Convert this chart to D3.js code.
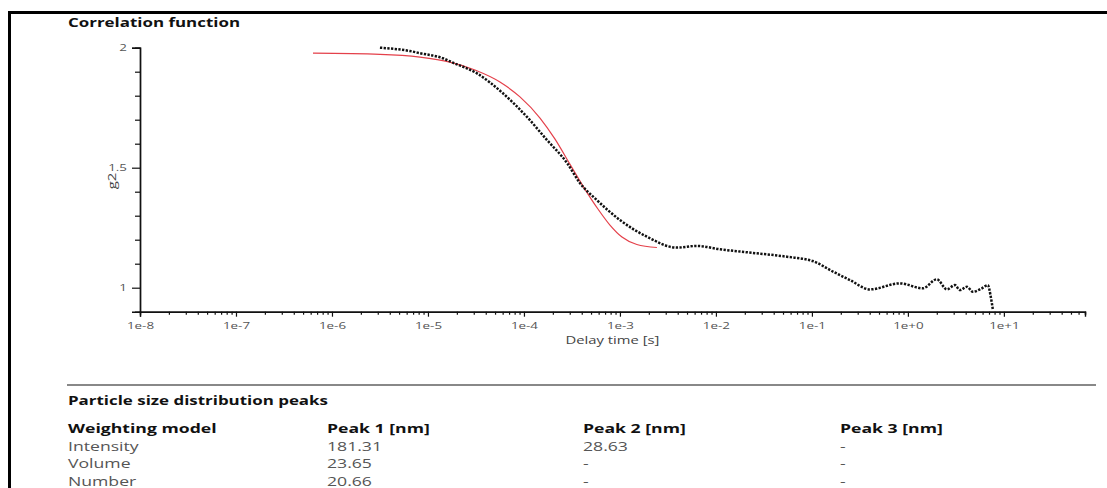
<!DOCTYPE html>
<html>
<head>
<meta charset="utf-8">
<script src="https://cdn.jsdelivr.net/npm/d3@7"></script>
<style>
  html, body { margin: 0; padding: 0; background: #fff; }
  svg { display: block; font-family: "Open Sans", "Noto Sans", sans-serif; }
</style>
</head>
<body>
<div id="chart"></div>
<script>
// measured correlation function (delay time [s], g2)
const tauMeasured = [3.16e-6, 6.5e-6, 8.3e-6, 1.43e-5, 1.82e-5, 3.24e-5, 6.04e-5, 1.07e-4, 1.74e-4,
    2.81e-4, 3.83e-4, 5.75e-4, 1.0e-3, 1.91e-3, 3.93e-3, 6.34e-3, 1.1e-2, 2.43e-2, 5.5e-2, 1.02e-1,
    0.166, 0.249, 0.402, 0.826, 1.43, 2.0, 2.55, 3.09, 3.48, 4.12, 4.75, 5.9, 6.8, 7.3, 7.7];
const g2Measured = [2.0, 1.986, 1.977, 1.956, 1.9375, 1.893, 1.81, 1.7125, 1.615,
    1.52, 1.436, 1.365, 1.282, 1.2125, 1.167, 1.174, 1.16, 1.145, 1.129, 1.111,
    1.067, 1.032, 0.993, 1.018, 0.9975, 1.035, 0.993, 1.011, 0.99, 1.004, 0.983, 0.9975, 1.011, 0.9625, 0.905];

// fitted curve
const tauFit = [6.34e-7, 3.16e-6, 8.25e-6, 1.69e-5, 3.09e-5, 5.62e-5, 9.09e-5, 1.47e-4,
    2.1e-4, 3.01e-4, 4.31e-4, 5.9e-4, 7.87e-4, 1.05e-3, 1.5e-3, 2.43e-3];
const g2Fit = [1.977, 1.9725, 1.961, 1.94, 1.907, 1.857, 1.795, 1.707,
    1.62, 1.515, 1.411, 1.328, 1.261, 1.211, 1.18, 1.1675];

const xMajorTicks = [1e-8, 1e-7, 1e-6, 1e-5, 1e-4, 1e-3, 1e-2, 1e-1, 1e0, 1e1];
const yMajorTicks = [1, 1.5, 2];
const yMinorTicks = [1.1, 1.2, 1.3, 1.4, 1.6, 1.7, 1.8, 1.9];

const tableTitle = "Particle size distribution peaks";
const tableColumns = ["Weighting model", "Peak 1 [nm]", "Peak 2 [nm]", "Peak 3 [nm]"];
const tableRows = [
    ["Intensity", "181.31", "28.63", "-"],
    ["Volume", "23.65", "-", "-"],
    ["Number", "20.66", "-", "-"]
];

(function () {
    const W = 1107, H = 488;
    const plot = { left: 140, right: 1085, top: 47.7, bottom: 311.7 };
    const TITLE_WIDTH = 172; // width of the title in the reference, sets the text stretch

    const svg = d3.select("#chart").append("svg")
        .attr("width", W)
        .attr("height", H);

    // 1. frame
    svg.append("path")
        .attr("d", `M9.5,${H} L9.5,12.5 L${W},12.5`)
        .attr("fill", "none")
        .attr("stroke", "#000")
        .attr("stroke-width", 3);

    // 2. scales
    const x = d3.scaleLog().domain([1e-8, 70]).range([plot.left, plot.right]);
    const y = d3.scaleLinear().domain([0.9, 2]).range([plot.bottom, plot.top]);

    const xMinorTicks = [];
    for (let e = -8; e <= 1; e++) {
        for (let m = 2; m <= 9; m++) {
            const v = m * Math.pow(10, e);
            if (v <= 70) xMinorTicks.push(v);
        }
    }
    const fmt = d => {
        const e = Math.round(Math.log10(d));
        return "1e" + (e >= 0 ? "+" : "-") + Math.abs(e);
    };

    const title = svg.append("text")
        .attr("x", 68).attr("y", 27)
        .attr("font-size", 12).attr("font-weight", 700)
        .attr("fill", "#111")
        .text("Correlation function");
    const STRETCH = TITLE_WIDTH / title.node().getComputedTextLength();

    // 3. axes
    const gx = svg.append("g").attr("transform", `translate(0,${plot.bottom})`);
    gx.append("g").call(d3.axisBottom(x).tickValues(xMinorTicks).tickSize(3).tickFormat(""));
    gx.append("g").call(d3.axisBottom(x).tickValues(xMajorTicks).tickSize(5).tickPadding(6).tickFormat(fmt));

    const gy = svg.append("g").attr("transform", `translate(${plot.left},0)`);
    gy.append("g").call(d3.axisLeft(y).tickValues(yMinorTicks).tickSize(5).tickFormat(""));
    gy.append("g").call(d3.axisLeft(y).tickValues(yMajorTicks).tickSize(8).tickPadding(5).tickFormat(d3.format("")));

    svg.selectAll(".domain").attr("stroke", "#111").attr("stroke-width", 1.4);
    svg.selectAll(".tick line").attr("stroke", "#111").attr("stroke-width", 1.2);
    svg.selectAll(".tick text")
        .attr("font-family", "Open Sans, sans-serif")
        .attr("font-size", 9.5)
        .attr("fill", "#555");

    svg.append("text")
        .attr("x", (plot.left + plot.right) / 2).attr("y", 344)
        .attr("text-anchor", "middle")
        .attr("font-size", 10.5).attr("fill", "#444")
        .text("Delay time [s]");

    svg.append("text")
        .attr("transform", "translate(116,181) rotate(-90)")
        .attr("text-anchor", "middle")
        .attr("font-size", 10.5).attr("fill", "#444")
        .text("g2");

    // 4. curves
    const line = d3.line()
        .x(d => x(d[0]))
        .y(d => y(d[1]))
        .curve(d3.curveMonotoneX);

    svg.append("path")
        .datum(d3.zip(tauFit, g2Fit))
        .attr("d", line)
        .attr("fill", "none")
        .attr("stroke", "#e4404a")
        .attr("stroke-width", 1.2);

    svg.append("path")
        .datum(d3.zip(tauMeasured, g2Measured))
        .attr("d", line)
        .attr("fill", "none")
        .attr("stroke", "#111")
        .attr("stroke-width", 2.5)
        .attr("stroke-dasharray", "2.3,1.4");

    // 5. peaks table
    svg.append("line")
        .attr("x1", 67).attr("x2", 1096)
        .attr("y1", 385).attr("y2", 385)
        .attr("stroke", "#888").attr("stroke-width", 2);

    const colX = [68, 327, 583, 840];
    const rowY = [451, 468, 485.5];

    svg.append("text")
        .attr("x", colX[0]).attr("y", 405)
        .attr("font-size", 12).attr("font-weight", 700).attr("fill", "#111")
        .text(tableTitle);

    svg.append("g").selectAll("text")
        .data(tableColumns)
        .join("text")
        .attr("x", (d, i) => colX[i]).attr("y", 433)
        .attr("font-size", 12.5).attr("font-weight", 700).attr("fill", "#111")
        .text(d => d);

    svg.append("g").selectAll("g")
        .data(tableRows)
        .join("g")
        .selectAll("text")
        .data((row, r) => row.map((v, c) => ({ v, r, c })))
        .join("text")
        .attr("x", d => colX[d.c]).attr("y", d => rowY[d.r])
        .attr("font-size", 12.5).attr("fill", "#555")
        .text(d => d.v);

    // 6. widen all text like the reference picture
    svg.selectAll("text").each(function () {
        const w = this.getComputedTextLength();
        if (w > 0) d3.select(this).attr("textLength", w * STRETCH).attr("lengthAdjust", "spacingAndGlyphs");
    });
})();
</script>
</body>
</html>
